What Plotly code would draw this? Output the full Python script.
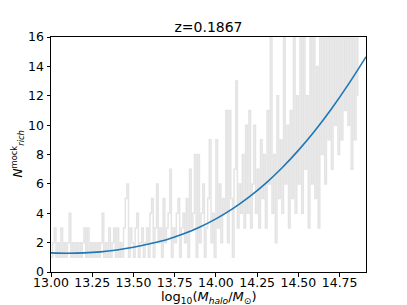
import numpy as np
import plotly.graph_objects as go

# halo mass grid of the mock sample (log10 M_halo), 0.01 dex spacing
mass_start = 13.00
mass_step = 0.01

# mock richness of each halo
n_rich_mock = [
    1, 2, 3, 1, 2,   1, 3, 1, 2, 1,   2, 4, 1, 2, 1,   2, 1, 2, 1, 2,
    3, 1, 3, 1, 2,   1, 2, 1, 2, 1,   2, 4, 1, 2, 1,   3, 1, 2, 3, 1,
    3, 1, 2, 1, 3,   5, 6, 1, 3, 2,   1, 3, 4, 1, 2,   3, 1, 2, 3, 1,
    4, 5, 1, 3, 6,   2, 3, 1, 5, 2,   3, 4, 7, 1, 3,   2, 4, 5, 1, 3,
    4, 2, 5, 1, 7,   3, 4, 8, 1, 8,   2, 4, 6, 1, 3,   5, 9, 2, 4, 1,
    9, 3, 6, 2, 5,   4, 11, 2, 11, 5, 1, 7, 13, 3, 6,  4, 8, 3, 10, 4,
    11, 3, 6, 10, 4, 7, 3, 9, 5, 8,   3, 11, 6, 18, 4, 8, 2, 12, 5, 9,
    4, 18, 6, 10, 3, 11, 5, 18, 4, 12, 6, 18, 4, 16, 7, 12, 3, 18, 6, 18,
    5, 14, 3, 18, 8, 18, 6, 18, 9, 16, 7, 18, 10, 18, 8, 18, 9, 16, 11, 18,
    10, 18, 7, 18, 9, 18, 12,
]

# fitted mean relation (blue curve)
fit_mass = [13.00, 13.10, 13.20, 13.30, 13.40, 13.50, 13.60, 13.70, 13.80, 13.90,
            14.00, 14.10, 14.20, 14.30, 14.40, 14.50, 14.60, 14.70, 14.80, 14.91]
fit_n_rich = [1.30, 1.28, 1.30, 1.37, 1.50, 1.68, 1.92, 2.20, 2.58, 3.05,
              3.62, 4.30, 5.10, 6.02, 7.08, 8.28, 9.62, 11.10, 12.72, 14.65]

x_ticks = [13.00, 13.25, 13.50, 13.75, 14.00, 14.25, 14.50, 14.75]
y_ticks = [0, 2, 4, 6, 8, 10, 12, 14, 16]

halo_mass = np.round(mass_start + mass_step * np.arange(len(n_rich_mock)), 2)

fig = go.Figure()
fig.add_trace(go.Scatter(x=halo_mass, y=n_rich_mock, mode="lines",
                         line=dict(color="#e4e4e4", width=1.5, shape="hv"),
                         showlegend=False, hoverinfo="skip"))
fig.add_trace(go.Scatter(x=fit_mass, y=fit_n_rich, mode="lines",
                         line=dict(color="#1f77b4", width=1.6, shape="spline"),
                         showlegend=False))

axis_style = dict(showline=True, linecolor="black", linewidth=1, mirror=True,
                  ticks="outside", ticklen=3.5, tickcolor="black",
                  showgrid=False, zeroline=False, automargin=False,
                  tickfont=dict(size=12.5, color="black"))

# the page body adds an 8px offset, so the figure is sized a bit smaller
fig.update_layout(
    width=399, height=297,
    margin=dict(l=43, r=41, t=29, b=33),
    paper_bgcolor="white", plot_bgcolor="white",
    font=dict(family="DejaVu Sans", color="black"),
    title=dict(text="z=0.1867", x=0.5, xanchor="center", xref="paper",
               y=1 - 19 / 297, yref="container", yanchor="middle",
               font=dict(size=14, color="black")),
    xaxis=dict(range=[13.0, 14.91], tickvals=x_ticks, ticktext=[f"{t:.2f}" for t in x_ticks],
               ticklabelstandoff=-5, **axis_style),
    yaxis=dict(range=[0, 16], tickvals=y_ticks, **axis_style),
)

fig.add_annotation(text="log<sub>10</sub>(<i>M</i><sub><i>halo</i></sub>/<i>M</i><sub>⊙</sub>)",
                   xref="paper", yref="paper", x=0.5, y=-25 / 235,
                   xanchor="center", yanchor="middle", showarrow=False,
                   font=dict(size=13))
fig.add_annotation(text="<i>N</i><sup>mock</sup><sub><i>rich</i></sub>",
                   xref="paper", yref="paper", x=-34 / 315, y=0.5, textangle=-90,
                   xanchor="center", yanchor="middle", showarrow=False,
                   font=dict(size=12))

fig.write_html("out.html")
